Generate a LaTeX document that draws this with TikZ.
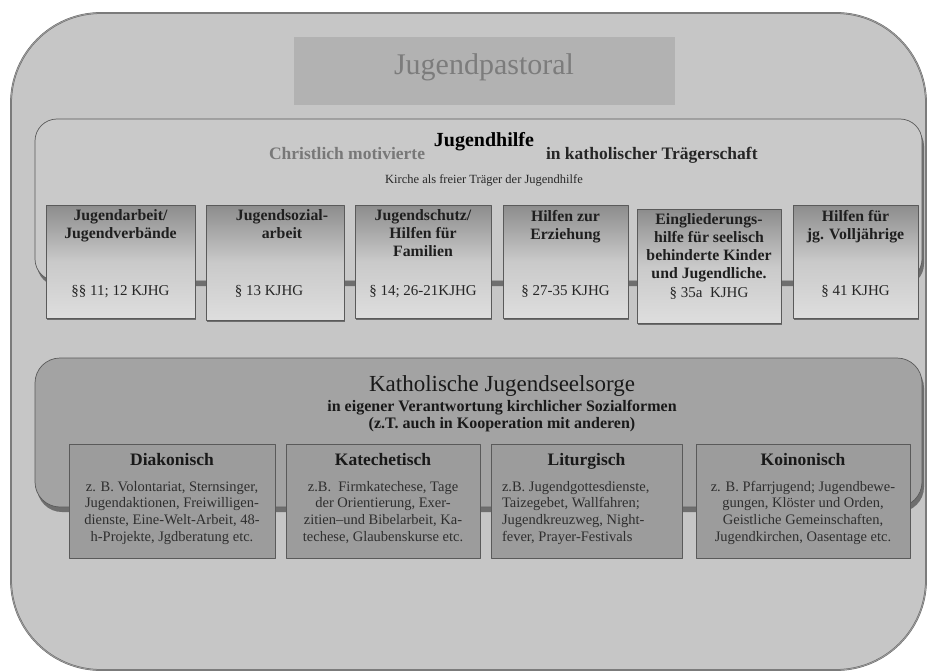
\documentclass[tikz,border=0pt]{standalone}
\usepackage{fontspec}
\setmainfont{Liberation Serif}
\usetikzlibrary{shadows}
\definecolor{outbg}{HTML}{C6C6C6}
\definecolor{outline}{HTML}{686868}
\definecolor{pastbg}{HTML}{B2B2B2}
\definecolor{pasttxt}{HTML}{7C7C7C}
\definecolor{hilfebg}{HTML}{C9C9C9}
\definecolor{seelbg}{HTML}{A3A3A3}
\definecolor{boxline}{HTML}{5A5A5A}
\definecolor{shadowgray}{HTML}{6E6E6E}
\definecolor{bodytxt}{HTML}{2E2E2E}
\definecolor{greytxt}{HTML}{787878}
\begin{document}
\begin{tikzpicture}[x=1pt,y=-1pt,line join=round]
\tikzset{every node/.style={inner sep=0pt,outer sep=0pt},
  panel/.style={anchor=north west,draw=boxline,line width=.7pt,rounded corners=#1,
    drop shadow={shadow xshift=2pt,shadow yshift=-5pt,fill=shadowgray,opacity=1}},
  hbox/.style={anchor=north west,draw=boxline,line width=.6pt,
    top color=black!45,bottom color=black!13,middle color=black!21,
    drop shadow={shadow xshift=1pt,shadow yshift=-2pt,fill=shadowgray,opacity=1}},
  htitle/.style={anchor=north,align=center,text=black!88,font=\bfseries\fontsize{15.8}{18}\selectfont},
  hsec/.style={anchor=base,text=black!85,font=\fontsize{15}{18}\selectfont},
  sbox/.style={anchor=north west,draw=boxline,line width=.7pt,fill=seelbg!96!black,minimum height=114pt},
  stitle/.style={anchor=base,text=black!90,font=\bfseries\fontsize{17.5}{20}\selectfont},
  sbody/.style={anchor=north,align=center,text=bodytxt,font=\fontsize{14.5}{16.7}\selectfont}}
\useasboundingbox (0,0) rectangle (928,671);
\node[anchor=north west,minimum width=915pt,minimum height=657pt,rounded corners=90pt,
  fill=outbg,draw=outline,line width=.5pt,double=black!38,double distance=.8pt] (all) at (11,13) {};
\node[anchor=north west,minimum width=381pt,minimum height=68pt,fill=pastbg] (pastbox) at (294,37) {};
\node[anchor=base,text=pasttxt,font=\fontsize{30}{34}\selectfont] (pastoral) at (484,75) {Jugendpastoral};

\node[panel=22pt,minimum width=887pt,minimum height=162pt,fill=hilfebg] (hilfe) at (35,119) {};
\node[anchor=base,font=\bfseries\fontsize{20}{24}\selectfont] (hilfet) at (484,147) {Jugendhilfe};
\node[anchor=base east,text=greytxt,font=\bfseries\fontsize{17.5}{20}\selectfont] (christ) at (425,160) {Christlich motivierte};
\node[anchor=base west,text=black!85,font=\bfseries\fontsize{17.5}{20}\selectfont] (kath) at (546,160) {in katholischer Trägerschaft};
\node[anchor=base,text=black!85,font=\fontsize{12.5}{14}\selectfont] (kirche) at (484,183) {Kirche als freier Träger der Jugendhilfe};

\foreach \n/\x/\y/\w/\h in {b1/46/205/149/113,b2/206/205/138/115,b3/355/205/136/113,
  b4/503/205/125/113,b5/637/209/144/114,b6/793/205/125/113}
  \node[hbox,minimum width=\w pt,minimum height=\h pt] (\n) at (\x,\y) {};
\node[htitle] (b1t) at ([yshift=-5pt]b1.north) {Jugendarbeit/\\Jugendverbände};
\node[htitle] (b2t) at ([xshift=7pt,yshift=-5pt]b2.north) {Jugendsozial-\\arbeit};
\node[htitle] (b3t) at ([yshift=-5pt]b3.north) {Jugendschutz/\\Hilfen für\\Familien};
\node[htitle] (b4t) at ([yshift=-5pt]b4.north) {Hilfen zur\\Erziehung};
\node[htitle] (b5t) at ([yshift=-5pt]b5.north) {Eingliederungs-\\hilfe für seelisch\\behinderte Kinder\\und Jugendliche.};
\node[htitle] (b6t) at ([yshift=-5pt]b6.north) {Hilfen für\\jg. Volljährige};
\coordinate (secl) at (0,295);
\node[hsec] (b1s) at (b1.south |- secl) {§§ 11; 12 KJHG};
\node[hsec] (b2s) at ([xshift=-6pt]b2.south |- secl) {§ 13 KJHG};
\node[hsec] (b3s) at (b3.south |- secl) {§ 14; 26-21KJHG};
\node[hsec] (b4s) at (b4.south |- secl) {§ 27-35 KJHG};
\node[hsec] (b5s) at (709,297) {§ 35a\ \ KJHG};
\node[hsec] (b6s) at (b6.south |- secl) {§ 41 KJHG};

\node[panel=25pt,minimum width=887pt,minimum height=149pt,fill=seelbg] (seel) at (35,358) {};
\node[anchor=base,text=black!90,font=\fontsize{23}{26}\selectfont] (seelt) at (502,391) {Katholische Jugendseelsorge};
\node[anchor=base,text=black!90,font=\bfseries\fontsize{16}{18}\selectfont] (seel1) at (502,411) {in eigener Verantwortung kirchlicher Sozialformen};
\node[anchor=base,text=black!90,font=\bfseries\fontsize{16}{18}\selectfont] (seel2) at (502,428) {(z.T. auch in Kooperation mit anderen)};

\foreach \n/\x/\w in {s1/69/206,s2/286/194,s3/491/191,s4/696/214}
  \node[sbox,minimum width=\w pt] (\n) at (\x,444) {};
\node[stitle] (s1t) at ([yshift=-21pt]s1.north) {Diakonisch};
\node[stitle] (s2t) at ([yshift=-21pt]s2.north) {Katechetisch};
\node[stitle] (s3t) at ([yshift=-21pt]s3.north) {Liturgisch};
\node[stitle] (s4t) at ([yshift=-21pt]s4.north) {Koinonisch};
\node[sbody] (s1b) at ([yshift=-37pt]s1.north) {z. B. Volontariat, Sternsinger,\\Jugendaktionen, Freiwilligen-\\dienste, Eine-Welt-Arbeit, 48-\\h-Projekte, Jgdberatung etc.};
\node[sbody] (s2b) at ([yshift=-37pt]s2.north) {z.B.\ \ Firmkatechese, Tage\\der Orientierung, Exer-\\zitien–und Bibelarbeit, Ka-\\techese, Glaubenskurse etc.};
\node[sbody,anchor=north west,align=left] (s3b) at (502,481) {z.B. Jugendgottesdienste,\\Taizegebet, Wallfahren;\\Jugendkreuzweg, Night-\\fever, Prayer-Festivals};
\node[sbody] (s4b) at ([yshift=-37pt]s4.north) {z. B. Pfarrjugend; Jugendbewe-\\gungen, Klöster und Orden,\\Geistliche Gemeinschaften,\\Jugendkirchen, Oasentage etc.};
\end{tikzpicture}
\end{document}
